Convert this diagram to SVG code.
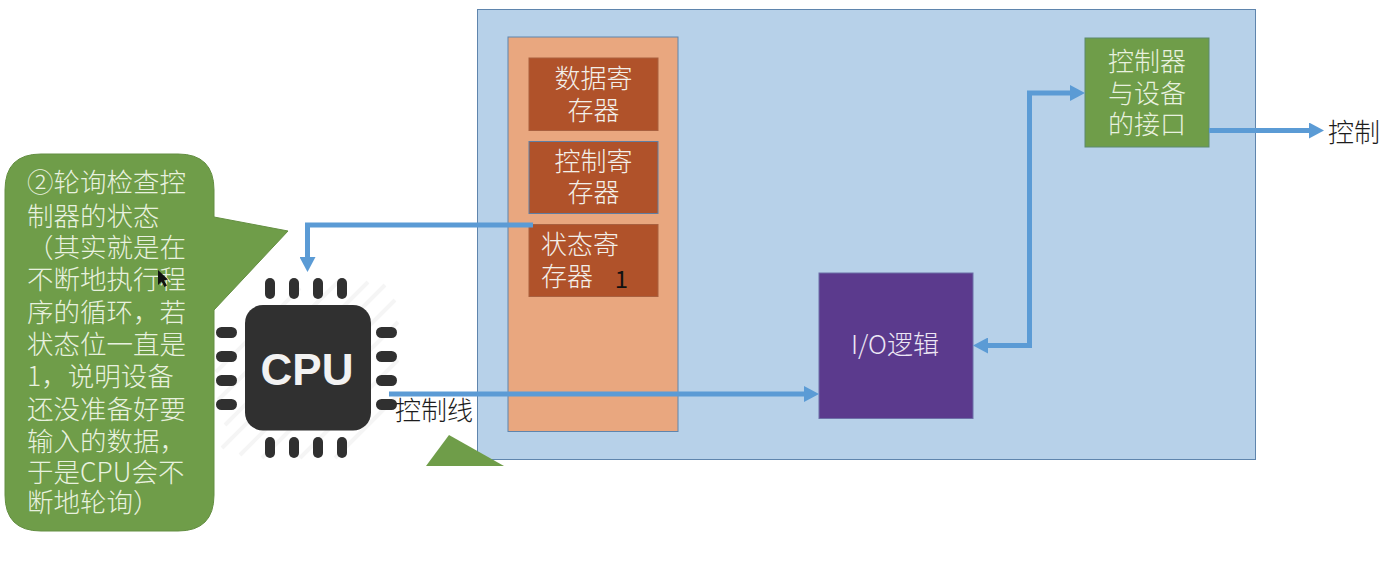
<svg xmlns="http://www.w3.org/2000/svg" width="1382" height="574" viewBox="0 0 1382 574">
<style>
text{font-family:"Noto Sans CJK SC","Noto Sans",sans-serif;font-size:26px;font-weight:300}
.w{fill:#f3efe9}
.g{fill:#e8f1df}
.k{fill:#1c1c1c}
.m{text-anchor:middle}
.t{font-size:26.500px}
.reg{fill:#b0522a;stroke:#a9603f;stroke-width:1}
.pin{fill:#303030}
.hatch{stroke:#f5f5f5;stroke-width:4;fill:none}
.c{fill:none;stroke:#5b9bd5;stroke-width:5}
</style>
<defs>
<marker id="arr" viewBox="0 0 15 16" markerUnits="userSpaceOnUse" markerWidth="15" markerHeight="16" refX="5" refY="8" orient="auto-start-reverse"><path d="M0 0L15 8L0 16Z" fill="#5b9bd5"/></marker>
</defs>
<rect width="1382" height="574" fill="#fff"/>
<g id="controller"><rect x="477.500" y="9.500" width="778" height="450" fill="#b7d1e9" stroke="#5f85ad" stroke-width="1"/></g>
<g id="registers-panel"><rect x="508" y="37" width="170" height="394.500" fill="#e9a77f" stroke="#5f85ad" stroke-width="1"/></g>
<g id="data-register"><rect class="reg" x="529" y="58" width="129" height="72.500"/><text class="w m" x="593.500" y="88">数据寄</text><text class="w m" x="593.500" y="120">存器</text></g>
<g id="control-register"><rect class="reg" x="529" y="141.500" width="129" height="72" style="stroke:#5f7ea3"/><text class="w m" x="593.500" y="171">控制寄</text><text class="w m" x="593.500" y="202">存器</text></g>
<g id="status-register"><rect class="reg" x="529" y="224.500" width="129" height="72"/><text class="w" x="541" y="254">状态寄</text><text class="w" x="541" y="286">存器</text><text class="m" x="621.500" y="288" fill="#111" style="font-size:24px;font-weight:400">1</text></g>
<g id="io-logic"><rect x="819" y="273" width="154" height="145.500" fill="#5b3a8d" stroke="#6d6fa8" stroke-width="1"/><text class="m" x="895" y="354" fill="#ece6f4">I/O逻辑</text></g>
<g id="interface"><rect x="1085" y="38" width="124" height="109" fill="#6f9d49" stroke="#5c8a6c" stroke-width="1"/><text class="g m" x="1147" y="71">控制器</text><text class="g m" x="1147" y="103">与设备</text><text class="g m" x="1147" y="134">的接口</text></g>
<g id="cpu">
<path class="hatch" d="M222 448L385 285M240 455L395 300M262 458L398 322M225 425L368 282M218 400L340 280M216 372L300 288M300 458L398 360M335 458L398 395"/>
<rect x="245" y="305" width="126" height="125.500" rx="18" fill="#303030"/>
<rect class="pin" x="265" y="278" width="10" height="21" rx="5"/><rect class="pin" x="289" y="278" width="10" height="21" rx="5"/><rect class="pin" x="313" y="278" width="10" height="21" rx="5"/><rect class="pin" x="337" y="278" width="10" height="21" rx="5"/>
<rect class="pin" x="265" y="437" width="10" height="21" rx="5"/><rect class="pin" x="289" y="437" width="10" height="21" rx="5"/><rect class="pin" x="313" y="437" width="10" height="21" rx="5"/><rect class="pin" x="337" y="437" width="10" height="21" rx="5"/>
<rect class="pin" x="216" y="327" width="21" height="11" rx="5.500"/><rect class="pin" x="216" y="351" width="21" height="11" rx="5.500"/><rect class="pin" x="216" y="375" width="21" height="11" rx="5.500"/><rect class="pin" x="216" y="399" width="21" height="11" rx="5.500"/>
<rect class="pin" x="376" y="327" width="21" height="11" rx="5.500"/><rect class="pin" x="376" y="351" width="21" height="11" rx="5.500"/><rect class="pin" x="376" y="375" width="21" height="11" rx="5.500"/><rect class="pin" x="376" y="399" width="21" height="11" rx="5.500"/>
<text class="m" x="307" y="385" fill="#f2f2f2" style="font-family:'Liberation Sans',Arial,sans-serif;font-size:44px;font-weight:700">CPU</text>
</g>
<g id="callout">
<path d="M41 154H178Q214 154 214 190V217L288 231L214 310V495Q214 531 178 531H41Q5 531 5 495V190Q5 154 41 154Z" fill="#6f9d49" stroke="#648f42" stroke-width="1"/>
<g class="g">
<text class="t" x="27" y="192">②轮询检查控</text>
<text class="t" x="27" y="226">制器的状态</text>
<text class="t" x="27" y="257">（其实就是在</text>
<text class="t" x="27" y="289">不断地执行程</text>
<text class="t" x="27" y="322">序的循环，若</text>
<text class="t" x="27" y="354">状态位一直是</text>
<text class="t" x="27" y="386">1，说明设备</text>
<text class="t" x="27" y="419">还没准备好要</text>
<text class="t" x="27" y="451">输入的数据，</text>
<text class="t" x="27" y="482">于是CPU会不</text>
<text class="t" x="27" y="512">断地轮询）</text>
</g>
<path d="M158 270L158 285L161.500 281.500L164.500 287L167 285.500L164 280.500L168 279.500Z" fill="#111"/>
</g>
<g id="callout-fragment"><path d="M426 466L449 435L504 466Z" fill="#6f9d49"/></g>
<g id="connectors">
<path class="c" d="M533 225H307.500V262" marker-end="url(#arr)"/>
<path class="c" d="M389 394H809" marker-end="url(#arr)"/>
<path class="c" d="M983 345.500H1029.500V93H1075" marker-start="url(#arr)" marker-end="url(#arr)"/>
<path class="c" d="M1209 130.500H1314" marker-end="url(#arr)"/>
</g>
<g id="labels">
<text class="k" x="395" y="420">控制线</text>
<text class="k" x="1328" y="142">控制</text>
</g>
</svg>
